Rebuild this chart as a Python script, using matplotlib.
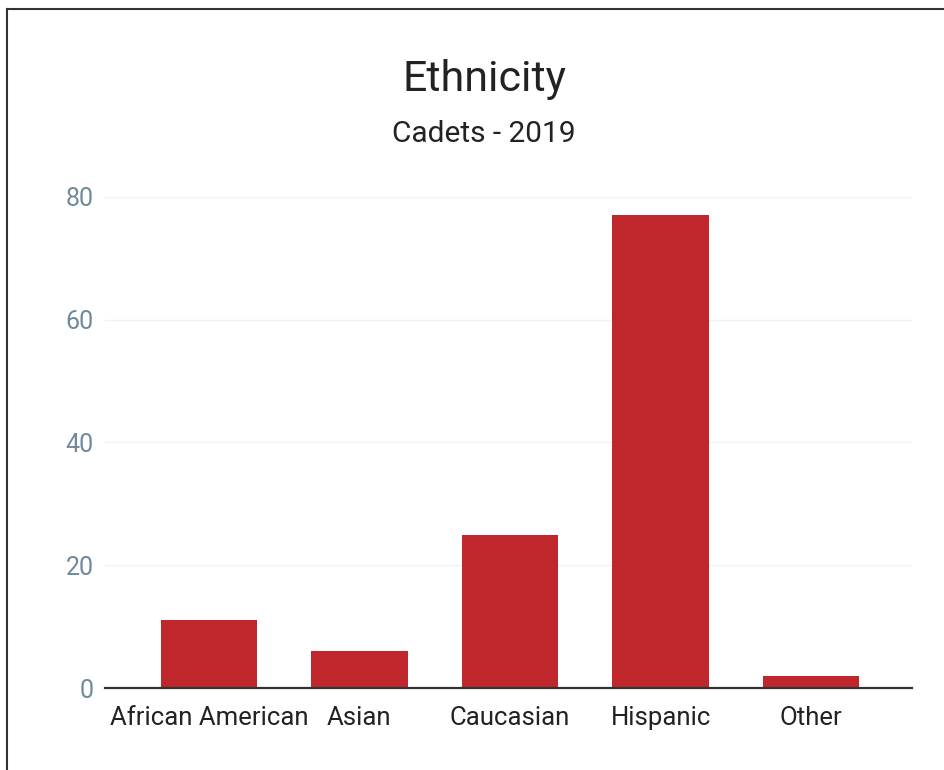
import matplotlib.pyplot as plt
from matplotlib.lines import Line2D

# data
categories = ['African American', 'Asian', 'Caucasian', 'Hispanic', 'Other']
cadets = [11, 6, 25, 77, 2]
y_ticks = [0, 20, 40, 60, 80]

plt.rcParams['font.family'] = ['Roboto', 'DejaVu Sans']

fig = plt.figure(figsize=(9.44, 7.70), dpi=100)
ax = fig.add_axes([105/944, 1 - 688/770, (912 - 105)/944, (688 - 197)/770])

x = list(range(len(categories)))
ax.bar(x, cadets, width=0.64, color='#c0272d', zorder=3)

ax.set_xlim(-0.69, 4.67)
ax.set_ylim(0, 80)
ax.set_yticks(y_ticks)
ax.set_yticklabels([str(t) for t in y_ticks], color='#6f8a9a', fontsize=18)
ax.set_xticks(x)
ax.set_xticklabels(categories, color='#222222', fontsize=18.5)
ax.tick_params(axis='both', length=0)
ax.tick_params(axis='y', pad=8)
ax.tick_params(axis='x', pad=13)

ax.grid(axis='y', color='#f2f2f2', linewidth=1, zorder=0)
for s in ['top', 'right', 'left']:
    ax.spines[s].set_visible(False)
ax.spines['bottom'].set_color('#333333')
ax.spines['bottom'].set_linewidth(1.6)
ax.spines['bottom'].set_zorder(4)

fig.text(0.513, 0.897, 'Ethnicity', ha='center', va='center',
         fontsize=31, color='#222222')
fig.text(0.513, 0.826, 'Cadets - 2019', ha='center', va='center',
         fontsize=21.5, color='#222222')

# frame of the scanned page
fig.add_artist(Line2D([7/944, 1], [1 - 9/770, 1 - 9/770],
                      transform=fig.transFigure, color='#333333', linewidth=1.5))
fig.add_artist(Line2D([7/944, 7/944], [0, 1 - 9/770],
                      transform=fig.transFigure, color='#333333', linewidth=1.5))

fig.savefig('out.png', dpi=100)
